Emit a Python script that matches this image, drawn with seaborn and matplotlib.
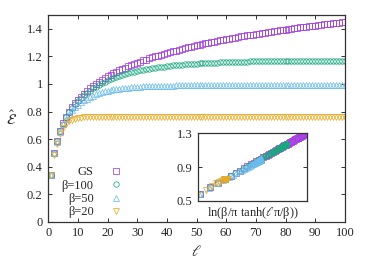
import numpy as np
import matplotlib
matplotlib.use("Agg")
import matplotlib.pyplot as plt
import seaborn as sns
from matplotlib.ticker import FormatStrFormatter

# system size l = 1..100
ell = np.arange(1, 101)

eps_gs = [0.340, 0.500, 0.585, 0.660, 0.715, 0.760, 0.798, 0.830, 0.859, 0.885,
          0.908, 0.930, 0.949, 0.967, 0.984, 1.000, 1.015, 1.029, 1.042, 1.055,
          1.067, 1.078, 1.089, 1.099, 1.109, 1.119, 1.128, 1.137, 1.146, 1.154,
          1.162, 1.170, 1.177, 1.185, 1.192, 1.199, 1.206, 1.212, 1.218, 1.225,
          1.231, 1.237, 1.242, 1.248, 1.253, 1.259, 1.264, 1.269, 1.274, 1.279,
          1.284, 1.289, 1.294, 1.298, 1.303, 1.307, 1.311, 1.316, 1.320, 1.324,
          1.328, 1.332, 1.336, 1.340, 1.344, 1.347, 1.351, 1.355, 1.358, 1.362,
          1.365, 1.369, 1.372, 1.375, 1.379, 1.382, 1.385, 1.388, 1.391, 1.394,
          1.397, 1.400, 1.403, 1.406, 1.409, 1.412, 1.415, 1.418, 1.420, 1.423,
          1.426, 1.429, 1.431, 1.434, 1.436, 1.439, 1.442, 1.444, 1.447, 1.449]

eps_b100 = [0.340, 0.500, 0.584, 0.659, 0.713, 0.757, 0.794, 0.825, 0.853, 0.877,
            0.898, 0.919, 0.936, 0.952, 0.967, 0.981, 0.993, 1.005, 1.015, 1.025,
            1.035, 1.043, 1.051, 1.058, 1.065, 1.072, 1.078, 1.083, 1.089, 1.094,
            1.098, 1.103, 1.106, 1.111, 1.114, 1.118, 1.121, 1.124, 1.126, 1.129,
            1.132, 1.134, 1.135, 1.138, 1.139, 1.142, 1.143, 1.144, 1.146, 1.147,
            1.149, 1.150, 1.152, 1.152, 1.154, 1.154, 1.155, 1.156, 1.157, 1.157,
            1.158, 1.159, 1.160, 1.160, 1.161, 1.161, 1.162, 1.163, 1.163, 1.164,
            1.164, 1.164, 1.164, 1.164, 1.165, 1.165, 1.165, 1.165, 1.165, 1.165,
            1.165, 1.166, 1.166, 1.166, 1.166, 1.166, 1.167, 1.167, 1.167, 1.167,
            1.167, 1.167, 1.167, 1.167, 1.168, 1.168, 1.168, 1.168, 1.168, 1.168]

eps_b50 = [0.340, 0.499, 0.582, 0.655, 0.706, 0.747, 0.781, 0.808, 0.831, 0.850,
           0.867, 0.881, 0.894, 0.905, 0.916, 0.925, 0.933, 0.940, 0.946, 0.951,
           0.956, 0.960, 0.964, 0.966, 0.969, 0.972, 0.974, 0.976, 0.978, 0.980,
           0.981, 0.982, 0.983, 0.984, 0.985, 0.986, 0.986, 0.987, 0.987, 0.988,
           0.988, 0.988, 0.989, 0.989, 0.989, 0.989, 0.990, 0.990, 0.990, 0.990,
           0.990, 0.990, 0.990, 0.990, 0.990, 0.990, 0.990, 0.990, 0.990, 0.990,
           0.991, 0.991, 0.991, 0.991, 0.991, 0.991, 0.991, 0.991, 0.991, 0.991,
           0.991, 0.991, 0.991, 0.991, 0.991, 0.991, 0.991, 0.991, 0.991, 0.991,
           0.991, 0.991, 0.991, 0.991, 0.991, 0.991, 0.991, 0.991, 0.991, 0.991,
           0.991, 0.991, 0.991, 0.991, 0.991, 0.991, 0.991, 0.991, 0.991, 0.991]

eps_b20 = [0.338, 0.487, 0.568, 0.635, 0.682, 0.710, 0.728, 0.740, 0.748, 0.753,
           0.756, 0.758, 0.759, 0.760, 0.760, 0.760, 0.760, 0.760, 0.760, 0.760,
           0.760, 0.760, 0.760, 0.760, 0.760, 0.760, 0.760, 0.760, 0.760, 0.760,
           0.760, 0.760, 0.760, 0.760, 0.760, 0.760, 0.760, 0.760, 0.760, 0.760,
           0.760, 0.760, 0.760, 0.760, 0.760, 0.760, 0.760, 0.760, 0.760, 0.760,
           0.760, 0.760, 0.760, 0.760, 0.760, 0.760, 0.760, 0.760, 0.760, 0.760,
           0.760, 0.760, 0.760, 0.760, 0.760, 0.760, 0.760, 0.760, 0.760, 0.760,
           0.760, 0.760, 0.760, 0.760, 0.760, 0.760, 0.760, 0.760, 0.760, 0.760,
           0.760, 0.760, 0.760, 0.760, 0.760, 0.760, 0.760, 0.760, 0.760, 0.760,
           0.760, 0.760, 0.760, 0.760, 0.760, 0.760, 0.760, 0.760, 0.760, 0.760]

labels = ["GS", "β=100", "β=50", "β=20"]
betas = [None, 100, 50, 20]
colors = ["#a53fe0", "#1aa77f", "#6cbdec", "#eaaa24"]
markers = ["s", "o", "^", "v"]
series = [eps_gs, eps_b100, eps_b50, eps_b20]

sns.set_style("ticks")
plt.rcParams["font.family"] = ["Liberation Serif", "DejaVu Serif"]
plt.rcParams["mathtext.fontset"] = "stix"
plt.rcParams["font.size"] = 9
frame_col = "#333333"

fig = plt.figure(figsize=(3.74, 2.62), dpi=100)
ax = fig.add_axes([0.129, 0.153, 0.793, 0.790])


def style_axes(a):
    for s in a.spines.values():
        s.set_color(frame_col)
        s.set_linewidth(0.9)
    a.tick_params(direction="in", length=3, width=0.7, color=frame_col,
                  top=True, right=True, labelsize=9, pad=4)


for lab, col, mk, ys in zip(labels, colors, markers, series):
    sns.lineplot(x=ell, y=ys, ax=ax, linestyle="", marker=mk, ms=3.9,
                 mfc="none", mec=col, mew=0.55, color=col, label=lab)

ax.set_xlim(0, 100)
ax.set_ylim(0, 1.5)
ax.set_xticks(np.arange(0, 101, 10))
ax.set_yticks(np.arange(0, 1.41, 0.2))
ax.yaxis.set_major_formatter(FormatStrFormatter("%g"))
style_axes(ax)
ax.set_xlabel(r"$\ell$", fontsize=11, labelpad=3)
ax.set_ylabel(r"$\hat{\mathcal{E}}$", fontsize=11, rotation=0, labelpad=11, va="center")

leg = ax.legend(loc="lower right", bbox_to_anchor=(0.292, -0.012), markerfirst=False,
                frameon=False, borderpad=0, labelspacing=0.1, handlelength=2.0,
                handletextpad=0.8, fontsize=9)

# inset: collapse onto log of the effective length
ins = fig.add_axes([0.529, 0.233, 0.292, 0.259])
for beta, col, mk, ys in zip(betas, colors, markers, series):
    if beta is None:
        xs = np.log(ell)
    else:
        xs = np.log(beta / np.pi * np.tanh(ell * np.pi / beta))
    sns.lineplot(x=xs, y=ys, ax=ins, linestyle="", marker=mk, ms=3.9,
                 mfc="none", mec=col, mew=0.55, color=col, legend=False)
ins.set_xlim(1.05, 4.02)
ins.set_ylim(0.5, 1.3)
ins.set_yticks([0.5, 0.9, 1.3])
ins.set_xticks([])
style_axes(ins)
ins.tick_params(top=False, bottom=False)
ins.set_xlabel("ln(β/π tanh($\\ell$π/β))", fontsize=9, labelpad=3)
ins.set_ylabel("")

fig.savefig("out.png", dpi=100)
